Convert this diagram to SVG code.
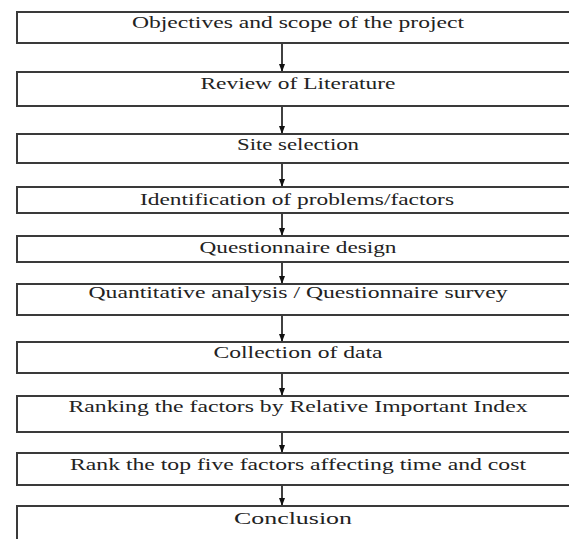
<svg xmlns="http://www.w3.org/2000/svg" width="569" height="539" viewBox="0 0 569 539">
  <style>
    .box { fill: #ffffff; stroke: #3a3a3a; stroke-width: 2; }
    .label { font-family: "Liberation Serif", "Times New Roman", serif; font-size: 16px; fill: #222222; text-anchor: middle; }
    .flow { stroke: #111111; stroke-width: 1.6; fill: none; marker-end: url(#head); }
  </style>
  <defs>
    <marker id="head" viewBox="0 0 8 6" refX="8" refY="3" markerWidth="8" markerHeight="6" markerUnits="userSpaceOnUse" orient="auto">
      <path d="M0,0 L8,3 L0,6 Z" fill="#111111"/>
    </marker>
  </defs>
  <rect width="569" height="539" fill="#ffffff"/>

  <g id="connectors">
    <line class="flow" x1="282" y1="43" x2="282" y2="72"/>
    <line class="flow" x1="282" y1="106" x2="282" y2="134"/>
    <line class="flow" x1="282" y1="163" x2="282" y2="187"/>
    <line class="flow" x1="282" y1="213" x2="282" y2="236"/>
    <line class="flow" x1="282" y1="262" x2="282" y2="284"/>
    <line class="flow" x1="282" y1="315" x2="282" y2="342"/>
    <line class="flow" x1="282" y1="373" x2="282" y2="396"/>
    <line class="flow" x1="282" y1="432" x2="282" y2="453"/>
    <line class="flow" x1="282" y1="485" x2="282" y2="506"/>
  </g>

  <g id="objectives">
    <rect class="box" x="17" y="12" width="570" height="31"/>
    <text class="label" x="298" y="28" textLength="332" lengthAdjust="spacingAndGlyphs">Objectives and scope of the project</text>
  </g>
  <g id="review">
    <rect class="box" x="17" y="72" width="570" height="34"/>
    <text class="label" x="298" y="89" textLength="195" lengthAdjust="spacingAndGlyphs">Review of Literature</text>
  </g>
  <g id="site">
    <rect class="box" x="17" y="134" width="570" height="29"/>
    <text class="label" x="298" y="150" textLength="122" lengthAdjust="spacingAndGlyphs">Site selection</text>
  </g>
  <g id="identification">
    <rect class="box" x="17" y="187" width="570" height="26"/>
    <text class="label" x="297" y="205" textLength="314" lengthAdjust="spacingAndGlyphs">Identification of problems/factors</text>
  </g>
  <g id="questionnaire">
    <rect class="box" x="17" y="236" width="570" height="26"/>
    <text class="label" x="298" y="253" textLength="197" lengthAdjust="spacingAndGlyphs">Questionnaire design</text>
  </g>
  <g id="quantitative">
    <rect class="box" x="17" y="284" width="570" height="31"/>
    <text class="label" x="298" y="298" textLength="419" lengthAdjust="spacingAndGlyphs">Quantitative analysis / Questionnaire survey</text>
  </g>
  <g id="collection">
    <rect class="box" x="17" y="342" width="570" height="31"/>
    <text class="label" x="298" y="358" textLength="169" lengthAdjust="spacingAndGlyphs">Collection of data</text>
  </g>
  <g id="ranking">
    <rect class="box" x="17" y="396" width="570" height="36"/>
    <text class="label" x="298" y="412" textLength="459" lengthAdjust="spacingAndGlyphs">Ranking the factors by Relative Important Index</text>
  </g>
  <g id="top-five">
    <rect class="box" x="17" y="453" width="570" height="32"/>
    <text class="label" x="298" y="470" textLength="456" lengthAdjust="spacingAndGlyphs">Rank the top five factors affecting time and cost</text>
  </g>
  <g id="conclusion">
    <rect class="box" x="17" y="506" width="570" height="50"/>
    <text class="label" x="293" y="524" textLength="118" lengthAdjust="spacingAndGlyphs">Conclusion</text>
  </g>
</svg>
